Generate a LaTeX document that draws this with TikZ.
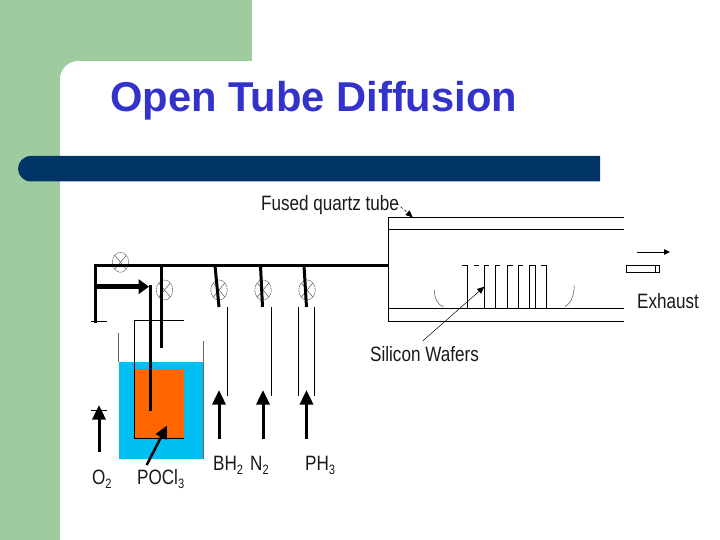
\documentclass[tikz,border=0pt]{standalone}
\usepackage{fontspec}
\setmainfont{Liberation Sans}
\usetikzlibrary{arrows.meta,shapes.geometric}
\definecolor{sage}{HTML}{9FCC9F}
\definecolor{navy}{HTML}{003366}
\definecolor{titleblue}{HTML}{3333CC}
\definecolor{bath}{HTML}{00BFF3}
\definecolor{charge}{HTML}{FF6600}
\newcommand{\lowtwo}[1]{\raisebox{-4pt}{\fontsize{13}{13}\selectfont #1}}
\tikzset{
  x=1pt,y=-1pt,
  pipe/.style={line width=3.2pt,black},
  thin line/.style={line width=0.8pt,black},
  tube line/.style={line width=1pt,black},
  gas arrow/.style={line width=3pt,black,-{Triangle[length=14.5pt,width=13pt]},shorten >=-0.5pt},
  valve/.style={ellipse,draw=black!65,dash pattern=on 2pt off 0.6pt,line width=0.5pt,minimum width=16.5pt,minimum height=20pt,inner sep=0pt,
    path picture={\draw[black!65,line width=0.5pt,solid]
      ([xshift=2.5pt,yshift=-3pt]path picture bounding box.north west)--([xshift=-2.5pt,yshift=3pt]path picture bounding box.south east)
      ([xshift=-2.5pt,yshift=-3pt]path picture bounding box.north east)--([xshift=2.5pt,yshift=3pt]path picture bounding box.south west);}},
  lab/.style={inner sep=0pt,font=\fontsize{20}{20}\selectfont,text=black!90,xscale=0.855,yscale=1.04},
  title text/.style={inner sep=0pt,anchor=west,text=titleblue,font=\fontsize{41.7}{42}\selectfont\bfseries},
}
\begin{document}
\begin{tikzpicture}
\useasboundingbox (0,0) rectangle (720,540);
% background
\fill[sage] (0,0) rectangle (252,61);
\fill[sage] (0,0) rectangle (60,540);
\fill[sage] (60,61) -- (78,61) .. controls (68,61) and (60,69) .. (60,79) -- cycle;
\node[title text] (title) at (110,101) {Open Tube Diffusion};
\fill[navy] (600,156) -- (31,156) .. controls (23.5,156) and (18,162) .. (18,168.75) .. controls (18,175.5) and (23.5,181.5) .. (31,181.5) -- (600,181.5) -- cycle;
% bath
\fill[bath] (119,362) rectangle (203.7,459);
\fill[charge] (134.3,369.3) rectangle (184,438.7);
\draw[thin line,black!60] (118.7,333) -- (118.7,362);
\draw[thin line,black!60] (203.6,341) -- (203.6,459);
\draw[thin line] (184,320.3) -- (134.3,320.3) -- (134.3,438.7) -- (184,438.7);
% coordinates
\coordinate (mL) at (95.7,265.7);
\coordinate (mR) at (388.5,265.7);
\coordinate (foot) at (95.7,321);
\coordinate (bubT) at (150.5,285);
\coordinate (bubB) at (150.5,411);
\coordinate (bT) at (161.5,265.7);
\coordinate (bB) at (161.5,348);
% valves
\node[valve] (v0) at (120.5,262.3) {};
\node[valve] (v1) at (164.5,290) {};
\node[valve] (v2) at (219,290) {};
\node[valve] (v3) at (263,290) {};
\node[valve] (v4) at (307,290) {};
% pipes
\draw[pipe] (mL) -- (mR);
\draw[pipe,line cap=rect] (mL) -- (foot);
\draw[thin line] (91,321) -- (107,321);
\coordinate (brA) at (95.7,286.7); \coordinate (brB) at (149,286.7);
\draw[line width=4.5pt,-{Triangle[length=10.5pt,width=14.5pt]}] (brA) -- (brB);
\draw[line width=3pt] (bubT) -- (bubB);
\draw[line width=3pt] (bT) -- (bB);
\coordinate (b1) at (215,265.7); \coordinate (b1e) at (219,307);
\coordinate (b2) at (260.5,265.7); \coordinate (b2e) at (262.5,307);
\coordinate (b3) at (304,265.7); \coordinate (b3e) at (306.5,307);
\draw[line width=3pt] (b1) -- (b1e);
\draw[line width=3pt] (b2) -- (b2e);
\draw[line width=3pt] (b3) -- (b3e);
% thin feed lines
\draw[thin line] (227.5,307) -- (227.5,396);
\draw[thin line] (271,307) -- (271,396);
\draw[thin line] (298.3,307) -- (298.3,396);
\draw[thin line] (314.3,307) -- (314.3,396);
% gas arrows
\coordinate (o2a) at (99,452); \coordinate (o2b) at (99,405.5);
\coordinate (bha) at (219,439); \coordinate (bhb) at (219,390.5);
\coordinate (n2a) at (263,439); \coordinate (n2b) at (263,390.5);
\coordinate (pha) at (306.5,439); \coordinate (phb) at (306.5,390.5);
\draw[gas arrow] (o2a) -- (o2b);
\draw[gas arrow] (bha) -- (bhb);
\draw[gas arrow] (n2a) -- (n2b);
\draw[gas arrow] (pha) -- (phb);
\draw[thin line] (91,410) -- (107,410);
\coordinate (pa) at (146.7,465); \coordinate (pb) at (167,425.5);
\draw[line width=2.5pt,-{Triangle[length=13pt,width=12pt]}] (pa) -- (pb);
% tube
\draw[tube line] (624,217.3) -- (388.5,217.3) -- (388.5,321.5) -- (624,321.5);
\draw[tube line] (388.5,229.3) -- (624,229.3);
\draw[tube line] (388.5,308.3) -- (624,308.3);
% wafers
\foreach \xa/\xb/\xc in {467.3/462.3/467.3,484.3/484.3/489.3,495/495/500,507/507/512.7,518.3/518.3/523.3,529.3/529.3/535.7,535.7/535.7/535.7,546.3/540.7/546.3}{
  \draw[thin line] (\xa,308.3) -- (\xa,265.3);
  \draw[thin line] (\xb,265.3) -- (\xc,265.3);
}
\draw[thin line] (474,265.3) -- (479,265.3);
% boat ends
\draw[line width=0.5pt,black!70] (434.3,290) .. controls (434.5,299) and (438,305) .. (443.3,306.7);
\draw[line width=0.5pt,black!70] (574.3,286) .. controls (574,297) and (570,304) .. (565,306.7);
% exhaust
\coordinate (ea) at (637.3,252); \coordinate (eb) at (670,252);
\draw[thin line,-{Triangle[length=6pt,width=5.5pt]}] (ea) -- (eb);
\draw[line width=0.7pt,black,fill=white] (626.3,265.3) rectangle (659.7,272.7);
\draw[line width=0.7pt,black] (655,265.3) -- (655,272.7);
% labels
\node[lab,anchor=west] (fq) at (261,205) {Fused quartz tube};
\coordinate (fqa) at (396.7,203.3); \coordinate (fqb) at (412.7,217.3);
\draw[line width=0.5pt,densely dashed,-{Triangle[length=7pt,width=6pt]}] (fqa) -- (fqb);
\node[lab,anchor=west] (sw) at (370,354) {Silicon Wafers};
\coordinate (swa) at (422.7,341); \coordinate (swb) at (484.3,286.7);
\draw[line width=0.5pt,-{Triangle[length=7pt,width=6pt]}] (swa) -- (swb);
\node[lab,anchor=west] (ex) at (637,301) {Exhaust};
\node[lab,anchor=base west] (lo) at (92,484) {O\lowtwo{2}};
\node[lab,anchor=base west] (lp) at (137,484) {POCl\lowtwo{3}};
\node[lab,anchor=base west] (lb) at (213,470) {BH\lowtwo{2}};
\node[lab,anchor=base west] (ln) at (250,470) {N\lowtwo{2}};
\node[lab,anchor=base west] (lh) at (305,470) {PH\lowtwo{3}};
\end{tikzpicture}
\end{document}
